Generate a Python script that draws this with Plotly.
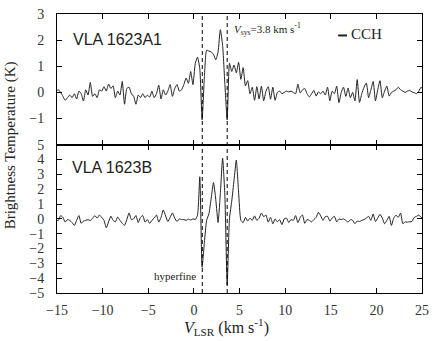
import plotly.graph_objects as go

# ---- data -------------------------------------------------------------
CHANNEL_START = -15.1   # km/s, first channel
CHANNEL_WIDTH = 0.25    # km/s

# VLA 1623A1, CCH brightness temperature (K)
tb_a1 = [
    0.05, 0.10, 0.00, -0.15, -0.30, -0.20, -0.10, -0.20, -0.05, -0.25,
    0.05, -0.05, -0.33, 0.10, -0.10, 0.38, -0.15, -0.05, -0.20, 0.10,
    0.05, 0.22, 0.05, 0.32, 0.15, 0.25, -0.20, 0.05, -0.10, 0.42,
    -0.45, 0.15, 0.20, -0.05, -0.15, -0.45, -0.10, -0.20, -0.05, -0.20,
    -0.10, -0.18, 0.05, -0.20, -0.05, 0.28, -0.25, 0.10, -0.10, 0.05,
    0.30, -0.15, 0.15, 0.30, 0.05, 0.10, 0.30, 0.55, 0.35, 0.80,
    0.30, 1.10, 1.35, 0.90, -1.05, 0.60, 1.62, 1.58, 1.55, 1.45,
    1.25, 1.55, 2.40, 1.80, 0.30, -1.05, 1.12, 0.80, 1.05, 0.75,
    1.15, 0.50, 0.95, 0.25, 0.45, -0.05, 0.20, -0.30, 0.22, -0.25,
    0.24, -0.32, 0.05, 0.22, -0.26, 0.20, -0.30, 0.00, 0.05, -0.05,
    0.00, 0.05, 0.02, 0.05, 0.00, -0.05, 0.32, -0.02, 0.10, 0.15,
    -0.05, -0.17, -0.05, 0.08, -0.14, 0.02, -0.05, 0.05, -0.10, 0.20,
    -0.32, 0.05, -0.05, 0.24, -0.39, 0.00, 0.20, -0.15, 0.17, -0.20,
    0.00, -0.32, 0.49, -0.38, -0.05, 0.20, 0.36, -0.20, 0.10, 0.42,
    -0.32, 0.10, 0.45, -0.20, 0.05, 0.24, -0.14, 0.00, 0.05, 0.10,
    0.20, 0.10, 0.05, 0.00, 0.05, 0.08, 0.02, -0.01, -0.05, 0.05,
    0.20, 0.10,
]

# VLA 1623B, CCH brightness temperature (K)
tb_b = [
    -0.10, -0.10, 0.22, 0.10, -0.22, -0.05, -0.10, -0.25, -0.44, -0.10,
    0.22, -0.30, -0.15, -0.10, -0.05, -0.12, 0.05, 0.22, 0.05, 0.26,
    0.10, -0.10, -0.60, -0.20, 0.18, -0.10, -0.20, 0.12, -0.10, -0.30,
    -0.44, -0.05, 0.40, -0.05, 0.00, 0.22, -0.25, 0.10, 0.22, -0.22,
    -0.05, -0.30, -0.10, 0.05, 0.26, -0.22, 0.10, 0.60, 0.20, -0.18,
    0.10, 0.40, 0.05, -0.18, 0.00, -0.05, -0.05, -0.10, -0.02, -0.08,
    0.00, -0.05, 0.25, 2.84, -3.27, -1.60, -0.10, 0.35, 1.40, 2.45,
    1.30, -0.25, 1.70, 4.10, 1.50, -4.46, 0.00, 1.20, 2.60, 3.97,
    1.80, -0.10, -0.25, 0.10, -0.15, 0.05, -0.10, 0.20, -0.10, 0.05,
    0.39, 0.15, 0.26, -0.22, 0.10, -0.33, 0.00, -0.20, -0.05, -0.39,
    0.00, 0.05, -0.25, -0.05, -0.10, 0.22, -0.25, 0.10, 0.26, -0.30,
    -0.05, -0.10, -0.20, -0.05, 0.10, 0.44, 0.20, -0.10, 0.15, 0.17,
    -0.15, 0.05, 0.17, -0.20, 0.00, -0.05, 0.00, -0.10, -0.22, -0.05,
    -0.10, -0.33, -0.15, -0.18, -0.10, -0.05, 0.05, 0.17, -0.10, 0.33,
    -0.18, 0.05, 0.30, 0.05, -0.33, -0.10, 0.17, -0.44, 0.05, 0.25,
    0.10, 0.39, -0.33, -0.20, -0.22, -0.20, -0.18, 0.10, 0.17, 0.26,
    0.10, 0.10,
]

velocity_a1 = [CHANNEL_START + CHANNEL_WIDTH * i for i in range(len(tb_a1))]
velocity_b = [CHANNEL_START + CHANNEL_WIDTH * i for i in range(len(tb_b))]

x_ticks = [-15, -10, -5, 0, 5, 10, 15, 20, 25]
y_ticks_a1 = [-1, 0, 1, 2, 3]
y_ticks_b = [-5, -4, -3, -2, -1, 0, 1, 2, 3, 4, 5]
marker_velocities = [0.92, 3.65]   # hyperfine line, V_sys line
panel_names = ["VLA 1623A1", "VLA 1623B"]

# ---- figure -----------------------------------------------------------
W, H = 436, 341
ML, MR, MT, MB = 57, 9, 7, 48
plot_h = H - MT - MB
split = 152 / plot_h

SERIF = "Liberation Serif"
SANS = "Liberation Sans"
LINE = dict(color="#222222", width=1, shape="spline", smoothing=0.5)

fig = go.Figure()
fig.add_trace(go.Scatter(x=velocity_a1, y=tb_a1, mode="lines", line=LINE,
                         xaxis="x2", yaxis="y2", showlegend=False))
fig.add_trace(go.Scatter(x=velocity_b, y=tb_b, mode="lines", line=LINE,
                         xaxis="x", yaxis="y", showlegend=False))

axis_common = dict(showline=True, linecolor="black", linewidth=1, mirror="ticks",
                   ticks="inside", ticklen=5, tickcolor="black", tickwidth=1,
                   showgrid=False, zeroline=False,
                   tickfont=dict(family=SERIF, size=14, color="#333333"))

fig.update_layout(
    width=W, height=H,
    margin=dict(l=ML, r=MR, t=MT, b=MB),
    paper_bgcolor="white", plot_bgcolor="white",
    font=dict(family=SERIF),
    xaxis=dict(axis_common, range=[-15, 25], tickvals=x_ticks, anchor="y",
               ticklabelstandoff=4),
    yaxis=dict(axis_common, range=[-5, 5], tickvals=y_ticks_b, domain=[0, split],
               anchor="x", ticklabelstandoff=9),
    xaxis2=dict(axis_common, range=[-15, 25], tickvals=x_ticks, anchor="y2",
                showticklabels=False, matches="x"),
    yaxis2=dict(axis_common, range=[-2, 3], tickvals=y_ticks_a1, domain=[split, 1],
                anchor="x2", ticklabelstandoff=9),
)

# dashed reference lines through both panels
for v in marker_velocities:
    fig.add_shape(type="line", xref="x", yref="paper", x0=v, x1=v, y0=0, y1=1,
                  line=dict(color="black", width=1, dash="4px,3px"))

def px_x(px):
    return (px - ML) / (W - ML - MR)

def px_y(py):
    return (H - MB - py) / plot_h

ann = []
ann.append(dict(text=panel_names[0], x=px_x(71), y=px_y(33), xanchor="left", yanchor="middle",
                font=dict(family=SANS, size=16, color="#222222")))
ann.append(dict(text=panel_names[1], x=px_x(70), y=px_y(164), xanchor="left", yanchor="middle",
                font=dict(family=SANS, size=16, color="#222222")))
ann.append(dict(text="<i>V</i><sub>sys</sub>=3.8 km s<sup>-1</sup>", x=px_x(234), y=px_y(22),
                xanchor="left", yanchor="middle",
                font=dict(family=SERIF, size=11, color="#222222")))
ann.append(dict(text="CCH", x=px_x(353), y=px_y(28), xanchor="left", yanchor="middle",
                font=dict(family=SERIF, size=15, color="#222222")))
ann.append(dict(text="hyperfine", x=px_x(200), y=px_y(276), xanchor="right", yanchor="middle",
                font=dict(family=SERIF, size=11, color="#222222")))
ann.append(dict(text="Brightness Temperature (K)", x=px_x(10), y=px_y(142), textangle=-90,
                xanchor="center", yanchor="middle",
                font=dict(family=SERIF, size=15, color="#222222")))
ann.append(dict(text="<i>V</i><sub>LSR</sub> (km s<sup>-1</sup>)", x=px_x(229), y=px_y(328),
                xanchor="center", yanchor="middle",
                font=dict(family=SERIF, size=16, color="#222222")))
for a in ann:
    a.update(xref="paper", yref="paper", showarrow=False)
fig.update_layout(annotations=ann)

# legend dash
fig.add_shape(type="line", xref="paper", yref="paper",
              x0=px_x(342), x1=px_x(351), y0=px_y(29), y1=px_y(29),
              line=dict(color="#222222", width=2))

fig.write_html("out.html", config={"displayModeBar": False},
               post_script="document.body.style.margin='0';document.body.style.padding='0';")
